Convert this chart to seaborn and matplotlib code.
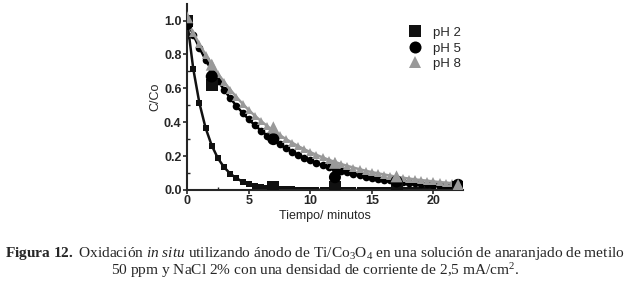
import numpy as np
import pandas as pd
import matplotlib
matplotlib.use('Agg')
import matplotlib.pyplot as plt
import seaborn as sns

tiempo_exp = [0, 2, 7, 12, 17, 22]
ph2_exp = [1.00, 0.62, 0.02, 0.02, 0.02, 0.02]
ph5_exp = [0.98, 0.67, 0.30, 0.075, 0.05, 0.03]
ph8_exp = [1.02, 0.74, 0.37, 0.16, 0.08, 0.03]

# curvas de ajuste (cada 0.5 min)
tiempo_fit = [i * 0.5 for i in range(45)]
ph2_fit = [1.000, 0.715, 0.512, 0.366, 0.262, 0.187, 0.134, 0.096, 0.069, 0.049,
           0.035, 0.025, 0.018, 0.013, 0.009, 0.007, 0.005, 0.003, 0.002, 0.002,
           0.001, 0.001, 0.001, 0.0, 0.0, 0.0, 0.0, 0.0, 0.0, 0.0,
           0.0, 0.0, 0.0, 0.0, 0.0, 0.0, 0.0, 0.0, 0.0, 0.0,
           0.0, 0.0, 0.0, 0.0, 0.0]
ph5_fit = [1.000, 0.916, 0.839, 0.769, 0.705, 0.646, 0.592, 0.542, 0.497, 0.455,
           0.417, 0.382, 0.350, 0.321, 0.294, 0.269, 0.247, 0.226, 0.207, 0.190,
           0.174, 0.159, 0.146, 0.134, 0.122, 0.112, 0.103, 0.094, 0.086, 0.079,
           0.072, 0.066, 0.061, 0.056, 0.051, 0.047, 0.043, 0.039, 0.036, 0.033,
           0.030, 0.028, 0.025, 0.023, 0.021]
ph8_fit = [1.000, 0.928, 0.861, 0.799, 0.741, 0.687, 0.638, 0.592, 0.549, 0.509,
           0.472, 0.438, 0.407, 0.377, 0.350, 0.325, 0.301, 0.280, 0.259, 0.241,
           0.223, 0.207, 0.192, 0.178, 0.165, 0.153, 0.142, 0.132, 0.122, 0.113,
           0.105, 0.098, 0.091, 0.084, 0.078, 0.072, 0.067, 0.062, 0.058, 0.054,
           0.050, 0.046, 0.043, 0.040, 0.037]

series = ['pH 2', 'pH 5', 'pH 8']
colores = {'pH 2': '#111111', 'pH 5': '#000000', 'pH 8': '#999999'}
marcas = {'pH 2': 's', 'pH 5': 'o', 'pH 8': '^'}

exp_df = pd.DataFrame({
    't': tiempo_exp * 3,
    'C': ph2_exp + ph5_exp + ph8_exp,
    'pH': [s for s in series for _ in tiempo_exp],
})
fit_df = pd.DataFrame({
    't': tiempo_fit * 3,
    'C': ph2_fit + ph5_fit + ph8_fit,
    'pH': [s for s in series for _ in tiempo_fit],
})

sns.set_style('ticks')
plt.rcParams['font.family'] = ['Liberation Sans', 'DejaVu Sans']

fig = plt.figure(figsize=(6.3, 2.86), dpi=100)
ax = fig.add_axes([0.297, 0.336, 0.438, 0.651])

# curvas de ajuste con marcadores pequeños
for s in series:
    sns.lineplot(data=fit_df[fit_df['pH'] == s], x='t', y='C', color=colores[s],
                 marker=marcas[s], markersize=5.5 if s != 'pH 2' else 4.5,
                 markeredgewidth=0, lw=1.8, legend=False, ax=ax, zorder=2)

# puntos experimentales
sns.scatterplot(data=exp_df, x='t', y='C', hue='pH', style='pH',
                palette=colores, markers=marcas, s=75, linewidth=0,
                ax=ax, zorder=3)

ax.set_xlim(0, 22.4)
ax.set_ylim(0, 1.1)
ax.set_xticks([0, 5, 10, 15, 20])
ax.set_yticks([0.0, 0.2, 0.4, 0.6, 0.8, 1.0])
ax.set_yticklabels(['0.0', '0.2', '0.4', '0.6', '0.8', '1.0'])
ax.set_xticks(np.arange(2.5, 22.5, 5), minor=True)
ax.set_yticks(np.arange(0.1, 1.1, 0.2), minor=True)
ax.tick_params(which='major', direction='out', length=3, width=1.2, labelsize=9, pad=1)
ax.tick_params(which='minor', direction='in', length=2, width=1)
for lab in ax.get_xticklabels() + ax.get_yticklabels():
    lab.set_fontweight('bold')
sns.despine(ax=ax)
ax.spines['left'].set_linewidth(1.5)
ax.spines['bottom'].set_linewidth(1.5)
ax.set_xlabel('Tiempo/ minutos', fontsize=9, labelpad=2)
ax.set_ylabel('C/Co', fontsize=9, labelpad=2)

leg = ax.legend(loc='upper left', bbox_to_anchor=(0.735, 0.94), frameon=False,
                fontsize=9.5, handletextpad=0.35, labelspacing=0.25, markerscale=1.0)

# pie de figura
plt.rcParams['mathtext.fontset'] = 'custom'
plt.rcParams['mathtext.rm'] = 'Liberation Serif'
plt.rcParams['mathtext.it'] = 'Liberation Serif:italic'
plt.rcParams['mathtext.bf'] = 'Liberation Serif:bold'
linea1 = (r'$\mathbf{Figura\ 12.}$ Oxidación $\mathit{in\ situ}$ utilizando ánodo de '
          r'Ti/Co$_3$O$_4$ en una solución de anaranjado de metilo')
linea2 = r'50 ppm y NaCl 2% con una densidad de corriente de 2,5 mA/cm$^2$.'
fig.text(0.5, 1 - 253 / 286, linea1, ha='center', va='center',
         family='Liberation Serif', fontsize=11.1)
fig.text(0.5, 1 - 271 / 286, linea2, ha='center', va='center',
         family='Liberation Serif', fontsize=11.1)

fig.savefig('out.png', dpi=100)
